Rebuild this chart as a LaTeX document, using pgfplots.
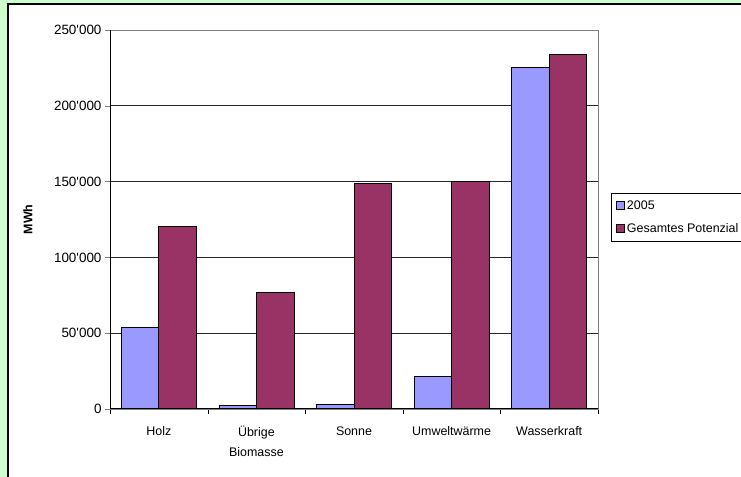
\documentclass[border=0pt]{standalone}
\usepackage{pgfplots}
\pgfplotsset{compat=1.18}
\usepackage{fontspec}
\setmainfont{Liberation Sans}[Ligatures=TeXOff]
\definecolor{bg}{HTML}{CCFFCC}
\definecolor{blau}{HTML}{9999FF}
\definecolor{weinrot}{HTML}{993366}
\begin{document}
\begin{tikzpicture}[x=1bp,y=1bp]
\fill[bg] (0,0) rectangle (741,477);
\filldraw[fill=white,draw=black,line width=1.5bp] (8,-10) rectangle (760,473);
\begin{axis}[
  at={(110bp,68bp)}, anchor=south west,
  scale only axis, width=488bp, height=379bp,
  ybar=0pt, bar width=37.5bp,
  xmin=-0.5, xmax=4.5, ymin=0, ymax=250000,
  xtick={0,...,4},
  xticklabels={Holz,{\"Ubrige\\Biomasse},Sonne,Umweltw\"arme,Wasserkraft},
  xticklabel style={align=center,font=\fontsize{12.5}{20}\selectfont,yshift=-9bp},
  major x tick style={draw=none},
  minor xtick={-0.5,0.5,...,4.5},
  minor x tick style={black},
  ytick={0,50000,...,250000},
  yticklabels={0,50'000,100'000,150'000,200'000,250'000},
  yticklabel style={font=\fontsize{13.5}{15}\selectfont},
  scaled y ticks=false,
  tick align=outside, major tick length=5bp, minor tick length=5bp,
  xtick pos=bottom, ytick pos=left,
  ymajorgrids, major grid style={black!85,line width=0.6bp},
  axis line style={gray,line width=0.8bp},
  ylabel={\textbf{MWh}},
  ylabel style={font=\fontsize{12.5}{14}\selectfont, at={(axis description cs:-0.152,0.5)}},
  legend style={at={(1.0266,0.570)}, anchor=north west, draw=black, line width=0.8bp,
    font=\fontsize{12.5}{14}\selectfont, cells={anchor=west}, row sep=9bp,
    inner xsep=5bp, inner ysep=5bp},
  legend image code/.code={\draw[#1,line width=0.6bp] (0bp,-4bp) rectangle (8bp,4bp);},
]
\addplot[fill=blau, draw=black, line width=0.8bp] coordinates {(0,54000) (1,2200) (2,3100) (3,21500) (4,225000)};
\addplot[fill=weinrot, draw=black, line width=0.8bp] coordinates {(0,120500) (1,77000) (2,148500) (3,150000) (4,234000)};
\legend{2005,Gesamtes Potenzial}
\draw[black,line width=1bp] (rel axis cs:0,1) -- (rel axis cs:0,0) -- (rel axis cs:1,0);
\end{axis}
\pgfresetboundingbox
\path (0,0) rectangle (741,477);
\end{tikzpicture}
\end{document}
